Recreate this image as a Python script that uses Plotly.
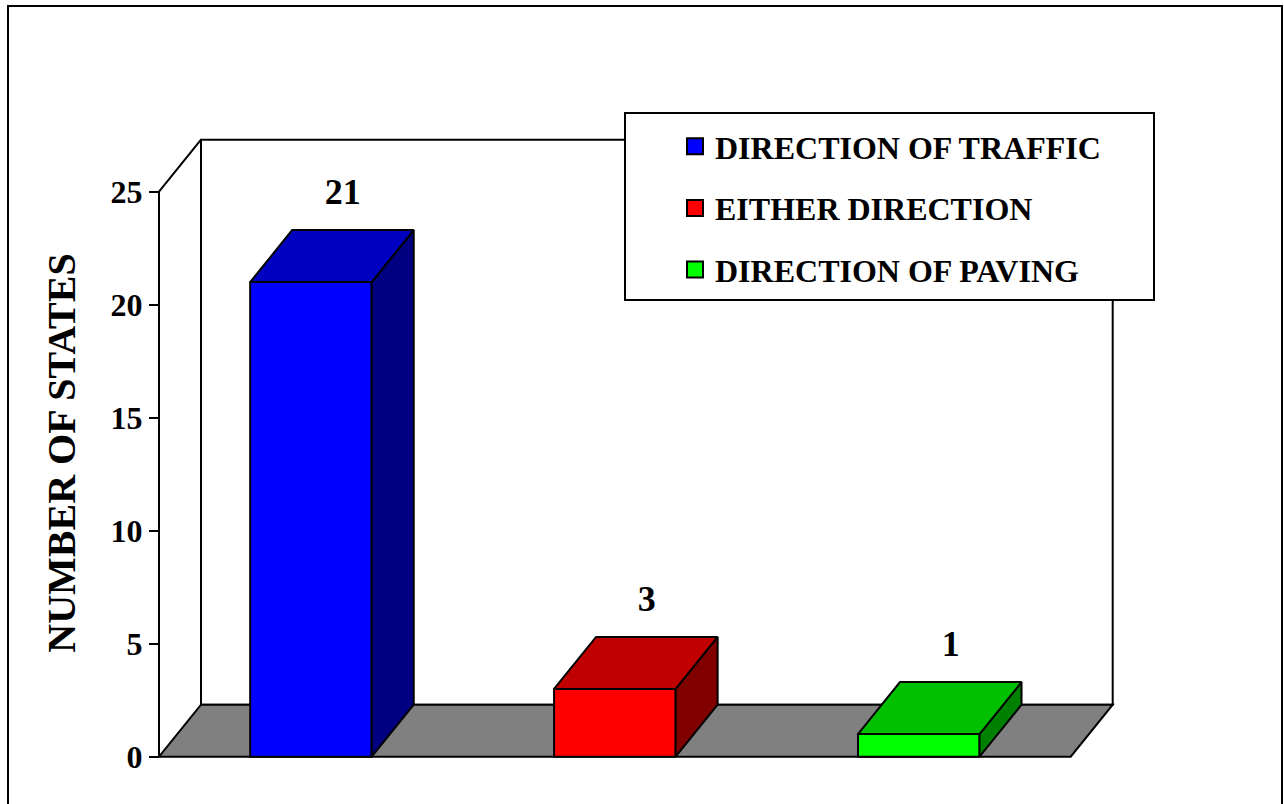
import plotly.graph_objects as go

# ---------------- data ----------------
categories = ["DIRECTION OF TRAFFIC", "EITHER DIRECTION", "DIRECTION OF PAVING"]
values = [21, 3, 1]
front_colors = ["#0000FF", "#FF0000", "#00FF00"]
top_colors = ["#0000C0", "#C00000", "#00C000"]
side_colors = ["#000080", "#800000", "#008000"]
y_ticks = [0, 5, 10, 15, 20, 25]
y_title = "NUMBER OF STATES"

# ---------------- geometry / style ----------------
W, H = 1284, 804
ML, MR, MT, MB = 150, 162, 138, 36
PW, PH = W - ML - MR, H - MT - MB
FONT = "Liberation Serif"
BAR_W = 0.4
DX, DY = 0.1382, 2.301          # 3-D depth offset (axis units)
X_LO, X_HI = -0.5, 2.5          # front floor extent
Y_TOP = 25
LW = 2


def px_x(p):   # pixel -> paper x
    return (p - ML) / PW


def px_y(p):   # pixel -> paper y
    return (H - MB - p) / PH


fig = go.Figure()
xs = list(range(len(values)))

# front faces
fig.add_trace(go.Bar(
    x=xs, y=values, width=BAR_W,
    marker=dict(color=front_colors, line=dict(color="black", width=LW)),
    showlegend=False, hoverinfo="skip"))

# side + top faces
for i, v in enumerate(values):
    xl, xr = i - BAR_W / 2, i + BAR_W / 2
    fig.add_trace(go.Scatter(
        x=[xr, xr + DX, xr + DX, xr, xr], y=[0, DY, v + DY, v, 0],
        fill="toself", fillcolor=side_colors[i], mode="lines",
        line=dict(color="black", width=LW), showlegend=False, hoverinfo="skip"))
    fig.add_trace(go.Scatter(
        x=[xl, xr, xr + DX, xl + DX, xl], y=[v, v, v + DY, v + DY, v],
        fill="toself", fillcolor=top_colors[i], mode="lines",
        line=dict(color="black", width=LW), showlegend=False, hoverinfo="skip"))

# value labels
fig.add_trace(go.Scatter(
    x=[i + 0.105 for i in xs], y=[v + 3.85 for v in values],
    mode="text", text=[str(v) for v in values],
    textfont=dict(family=FONT, size=36, weight="bold", color="black"),
    cliponaxis=False, showlegend=False, hoverinfo="skip"))

# legend entries
for i, c in enumerate(categories):
    fig.add_trace(go.Scatter(
        x=[None], y=[None], mode="markers", name=c, legendgroup=f"g{i}",
        marker=dict(symbol="square", size=16, color=front_colors[i],
                    line=dict(color="black", width=2))))

shapes = [
    # back wall
    dict(type="rect", xref="x", yref="y", x0=X_LO + DX, x1=X_HI + DX, y0=DY, y1=Y_TOP + DY,
         fillcolor="white", line=dict(color="black", width=LW), layer="below"),
    # floor
    dict(type="path", xref="x", yref="y",
         path=f"M {X_LO},0 L {X_HI},0 L {X_HI + DX},{DY} L {X_LO + DX},{DY} Z",
         fillcolor="#808080", line=dict(color="black", width=LW), layer="below"),
    # front axis line
    dict(type="line", xref="x", yref="y", x0=X_LO, x1=X_LO, y0=0, y1=Y_TOP,
         line=dict(color="black", width=LW), layer="below"),
    # side wall top edge
    dict(type="line", xref="x", yref="y", x0=X_LO, x1=X_LO + DX, y0=Y_TOP, y1=Y_TOP + DY,
         line=dict(color="black", width=LW), layer="below"),
    # legend box
    dict(type="rect", xref="paper", yref="paper", x0=px_x(625), x1=px_x(1154),
         y0=px_y(300), y1=px_y(113), fillcolor="white",
         line=dict(color="black", width=LW), layer="above"),
    # outer frame
    dict(type="rect", xref="paper", yref="paper", x0=px_x(8), x1=px_x(1282),
         y0=px_y(812), y1=px_y(6), fillcolor="rgba(0,0,0,0)",
         line=dict(color="black", width=LW), layer="below"),
]

fig.update_layout(
    width=W, height=H,
    margin=dict(l=ML, r=MR, t=MT, b=MB, pad=0),
    paper_bgcolor="white", plot_bgcolor="rgba(0,0,0,0)",
    barmode="overlay",
    shapes=shapes,
    xaxis=dict(range=[-0.52962, 2.66880], visible=False, fixedrange=True),
    yaxis=dict(range=[-0.5, 27.376], anchor="free", position=px_x(159),
               tickvals=y_ticks, ticks="outside", ticklen=10, tickwidth=2,
               tickcolor="black", showline=False, showgrid=False, zeroline=False,
               tickfont=dict(family=FONT, size=32, weight="bold", color="black"),
               title=dict(text=y_title, standoff=21,
                          font=dict(family=FONT, size=40, weight="bold", color="black")),
               automargin=False, fixedrange=True),
    showlegend=True,
    legend=dict(x=px_x(675), y=px_y(119), xanchor="left", yanchor="top",
                bgcolor="rgba(0,0,0,0)", borderwidth=0, tracegroupgap=17,
                font=dict(family=FONT, size=32, weight="bold", color="black")),
)

fig.write_html("out.html", config={"displayModeBar": False},
               post_script="document.body.style.margin='0';document.body.style.overflow='hidden';")
